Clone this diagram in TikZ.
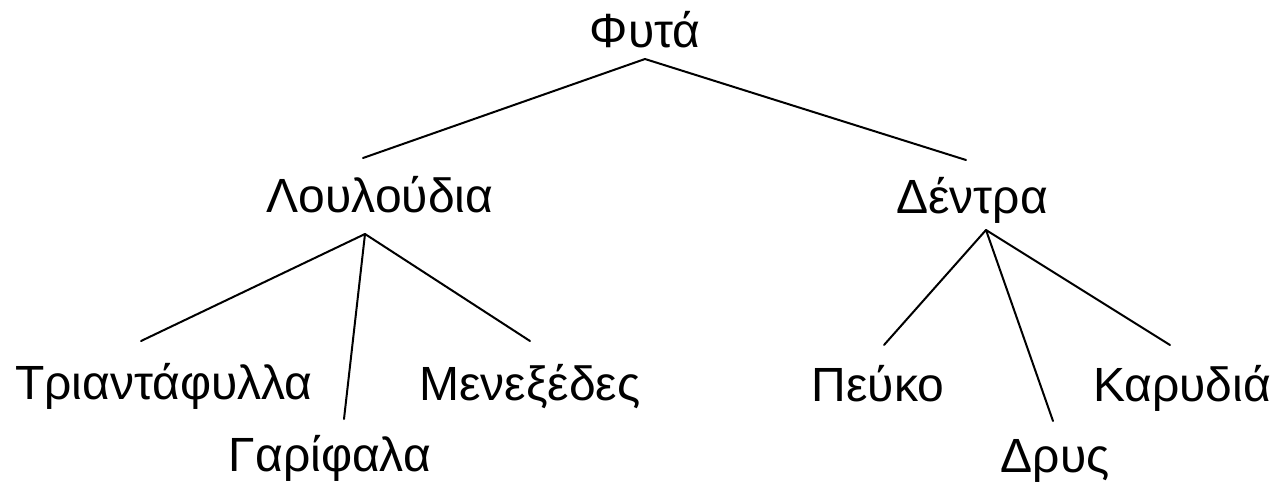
\documentclass[tikz,border=0pt]{standalone}
\usepackage{fontspec}
\setmainfont{Liberation Sans}
\begin{document}
\begin{tikzpicture}[x=1pt,y=-1pt,
  lbl/.style={inner sep=0pt,anchor=base,font=\fontsize{48}{52}\selectfont},
  edge/.style={line width=2pt,line cap=round,line join=round}]
\useasboundingbox (0,0) rectangle (1272,483);
% labels (positions are baselines)
\node[lbl] (fyta) at (645,47) {Φυτά};
\node[lbl] (lou) at (380,212) {Λουλούδια};
\node[lbl] (den) at (972,213) {Δέντρα};
\node[lbl] (tri) at (164,399) {Τριαντάφυλλα};
\node[lbl] (gar) at (330,471) {Γαρίφαλα};
\node[lbl] (men) at (530,400) {Μενεξέδες};
\node[lbl] (peu) at (878,401) {Πεύκο};
\node[lbl] (dry) at (1055,472) {Δρυς};
\node[lbl] (kar) at (1182,401) {Καρυδιά};
% connector end points
\coordinate (fytaB) at (645,59);
\coordinate (louT) at (363,158);
\coordinate (denT) at (966,160);
\coordinate (louB) at (365,234);
\coordinate (triT) at (141,341);
\coordinate (garT) at (344,419);
\coordinate (menT) at (530,341);
\coordinate (denB) at (986,230);
\coordinate (peuT) at (884,345);
\coordinate (dryT) at (1053,421);
\coordinate (karT) at (1170,345);
% connectors
\draw[edge] (louT) -- (fytaB) -- (denT);
\draw[edge] (triT) -- (louB) -- (menT);
\draw[edge] (louB) -- (garT);
\draw[edge] (peuT) -- (denB) -- (karT);
\draw[edge] (denB) -- (dryT);
\end{tikzpicture}
\end{document}
